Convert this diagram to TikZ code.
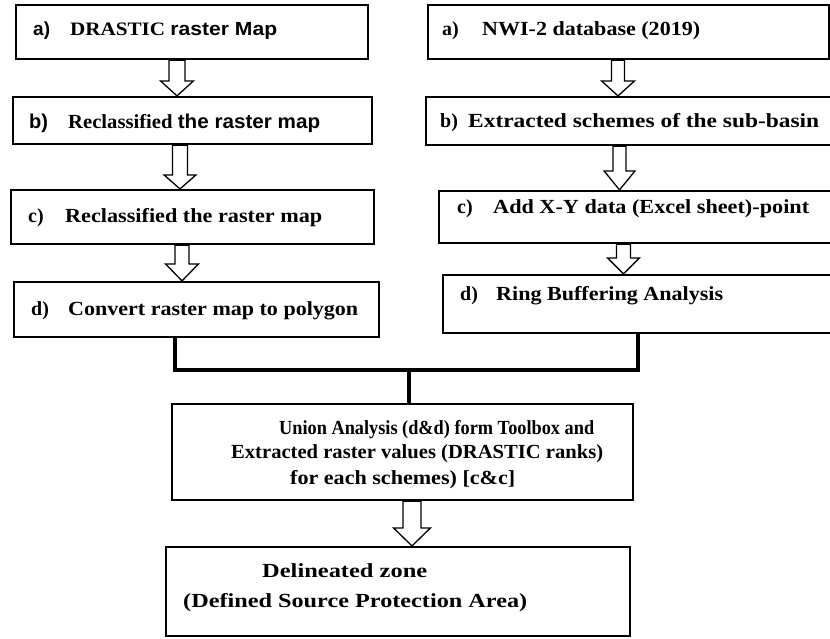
\documentclass[tikz,border=0pt]{standalone}
\usepackage{fontspec}
\setmainfont{Liberation Serif}
\setsansfont{Liberation Sans}
\usetikzlibrary{calc}
\newcommand\lbl[4]{\makebox[#1][l]{#2}\resizebox{#3}{\height}{#4}}
\newcommand\hollow[6]{%
  \draw[arrowline] let \p1=(#1.south -| #3), \p2=(#2.north -| #3) in
    (\x1-#4,\y1) -- (\x1+#4,\y1) -- (\x1+#4,\y2+#6) -- (\x1+#5,\y2+#6) -- (\x2,\y2)
    -- (\x1-#5,\y2+#6) -- (\x1-#4,\y2+#6) -- cycle;}
\tikzset{
  box/.style={draw, line width=2.2pt, inner sep=0pt},
  arrowline/.style={draw, line width=1.3pt, line join=miter},
  conn/.style={draw, line width=4pt},
  txt/.style={anchor=base west, inner sep=0pt, font=\bfseries\fontsize{20}{24}\selectfont},
}
\begin{document}
\begin{tikzpicture}[x=1pt,y=-1pt]
\useasboundingbox (0,0) rectangle (830,638);

% boxes
\node[box, minimum width=352pt, minimum height=54pt] (L1) at (192,32) {};
\node[box, minimum width=359pt, minimum height=47pt] (L2) at (192.5,120.5) {};
\node[box, minimum width=363pt, minimum height=54pt] (L3) at (192.5,217) {};
\node[box, minimum width=365pt, minimum height=55pt] (L4) at (196.5,309.5) {};
\node[box, minimum width=401pt, minimum height=54pt] (R1) at (628.5,32) {};
\node[box, minimum width=406pt, minimum height=48pt] (R2) at (629,121) {};
\node[box, minimum width=393pt, minimum height=52pt] (R3) at (635.5,217) {};
\node[box, minimum width=389pt, minimum height=58pt] (R4) at (637.5,304) {};
\node[box, minimum width=461pt, minimum height=96pt] (U) at (402.5,452) {};
\node[box, minimum width=464pt, minimum height=89pt] (F) at (398,591.5) {};

% texts
\node[txt, font=\bfseries\fontsize{19}{23}\selectfont] (tL1) at (33,35)
  {\lbl{37pt}{\sffamily a)}{207pt}{DRASTIC \sffamily raster Map}};
\node[txt] (tL2) at (29,128) {\lbl{39pt}{\sffamily b)}{252pt}{Reclassified \sffamily the raster map}};
\node[txt] (tL3) at (28,222) {\lbl{37pt}{c)}{257pt}{Reclassified the raster map}};
\node[txt] (tL4) at (31,315) {\lbl{37pt}{d)}{290pt}{Convert raster map to polygon}};
\node[txt] (tR1) at (442,35) {\lbl{40pt}{a)}{218pt}{NWI-2 database (2019)}};
\node[txt] (tR2) at (440,127) {\lbl{28pt}{b)}{351pt}{Extracted schemes of the sub-basin}};
\node[txt] (tR3) at (457,213) {\lbl{36pt}{c)}{316pt}{Add X-Y data (Excel sheet)-point}};
\node[txt] (tR4) at (460,300) {\lbl{36pt}{d)}{227pt}{Ring Buffering Analysis}};
\node[txt] (tU1) at (279,434) {\resizebox{315pt}{\height}{Union Analysis (d\&d) form Toolbox and}};
\node[txt] (tU2) at (231,458) {\resizebox{372pt}{\height}{Extracted raster values (DRASTIC ranks)}};
\node[txt] (tU3) at (290,484) {\resizebox{225pt}{\height}{for each schemes) [c\&c]}};
\node[txt] (tF1) at (262,577) {\resizebox{165pt}{\height}{Delineated zone}};
\node[txt] (tF2) at (183,607) {\resizebox{344pt}{\height}{(Defined Source Protection Area)}};

% x references for arrows
\coordinate (xa1) at (177,0);
\coordinate (xa2) at (180,0);
\coordinate (xa3) at (182,0);
\coordinate (xb1) at (618,0);
\coordinate (xb2) at (619.5,0);
\coordinate (xb3) at (623.5,0);
\coordinate (xc) at (412,0);

\hollow{L1}{L2}{xa1}{8pt}{16.5pt}{15pt}
\hollow{L2}{L3}{xa2}{7.5pt}{16pt}{14pt}
\hollow{L3}{L4}{xa3}{7pt}{16.5pt}{17pt}
\hollow{R1}{R2}{xb1}{6.5pt}{16.5pt}{15pt}
\hollow{R2}{R3}{xb2}{6.5pt}{15.5pt}{19pt}
\hollow{R3}{R4}{xb3}{7pt}{16pt}{16pt}
\hollow{U}{F}{xc}{9pt}{18.5pt}{18pt}

% connectors
\coordinate (xl) at (175,0);
\coordinate (xr) at (638,0);
\coordinate (jn) at (409,370);
\draw[conn] (L4.south -| xl) |- (jn) -| (R4.south -| xr);
\draw[conn] (jn) -- (U.north -| jn);
\end{tikzpicture}
\end{document}
